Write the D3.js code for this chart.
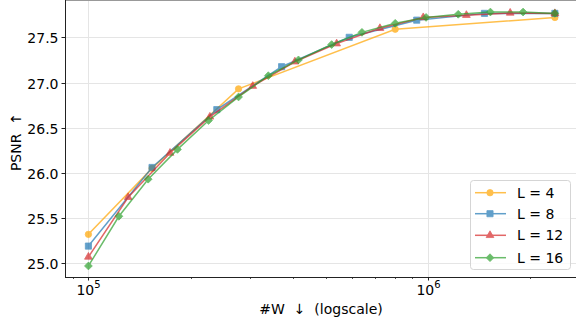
<script src='https://d3js.org/d3.v7.min.js'></script>
<style>
body {margin:0; background:#fff;}
text {font-family:'DejaVu Sans',sans-serif; fill:#000;}
.grid1 line {stroke:#e5e5e5; stroke-width:1; shape-rendering:crispEdges;}
.series .ln {fill:none; stroke-width:1.5;}
</style>
<body>
<svg id='svg001' width='576' height='324'></svg>
<script>
// values
var names=['L = 4','L = 8','L = 12','L = 16'];
var colors=['#ffa500','#1f77b4','#d62728','#2ca02c'];
var shapes=['circle','square','triangle','diamond'];
var x4=[1.00e5,1.54e5,2.77e5,8.02e5,2.37e6];
var y4=[25.32,26.05,26.93,27.59,27.72];
var x8=[1.00e5,1.54e5,2.39e5,3.71e5,5.87e5,9.28e5,1.47e6,2.37e6];
var y8=[25.19,26.06,26.70,27.175,27.50,27.69,27.765,27.765];
var x12=[1.00e5,1.31e5,1.74e5,2.28e5,3.05e5,4.06e5,5.39e5,7.23e5,9.70e5,1.30e6,1.75e6,2.37e6];
var y12=[25.07,25.73,26.22,26.62,26.96,27.23,27.43,27.60,27.72,27.745,27.77,27.765];
var x16=[1.00e5,1.23e5,1.50e5,1.83e5,2.26e5,2.77e5,3.39e5,4.16e5,5.21e5,6.40e5,8.02e5,9.89e5,1.23e6,1.53e6,1.91e6,2.37e6];
var y16=[24.97,25.52,25.93,26.26,26.58,26.84,27.075,27.25,27.42,27.555,27.655,27.72,27.755,27.78,27.78,27.765];
var yTicks=[25.0,25.5,26.0,26.5,27.0,27.5];
var xMajor=[1e5,1e6];
var xMinor=[9e4,2e5,3e5,4e5,5e5,6e5,7e5,8e5,9e5,2e6];

var xs=[x4,x8,x12,x16], ys=[y4,y8,y12,y16];
var L=65,R=576,T=0,B=277;
var xScale=d3.scaleLog().domain([Math.pow(10,4.931),Math.pow(10,6.437)]).range([L,R]);
var yScale=d3.scaleLinear().domain([24.848,27.913]).range([B,T]);
var svg=d3.select('#svg001');

// grid
svg.append('g').attr('class','grid1').selectAll('line').data(yTicks).enter().append('line')
   .attr('x1',L).attr('x2',R).attr('y1',function(d){return Math.round(yScale(d))+0.5}).attr('y2',function(d){return Math.round(yScale(d))+0.5});
svg.append('g').attr('class','grid1').selectAll('line').data(xMajor).enter().append('line')
   .attr('y1',T).attr('y2',B).attr('x1',function(d){return Math.round(xScale(d))+0.5}).attr('x2',function(d){return Math.round(xScale(d))+0.5});

// series
var symType={circle:d3.symbolCircle,square:d3.symbolSquare,triangle:d3.symbolTriangle,diamond:d3.symbolSquare};
var symSize={circle:32,square:38,triangle:26,diamond:30};
function marker(sel,shape,color){
  var p=sel.append('path').attr('d',d3.symbol().type(symType[shape]).size(symSize[shape])())
     .attr('fill',color).attr('stroke',color).attr('stroke-width',0.8);
  if(shape=='diamond') p.attr('transform','rotate(45)');
  return p;
}
var line=d3.line().x(function(d){return xScale(d[0])}).y(function(d){return yScale(d[1])});
xs.forEach(function(xv,i){
  var pts=xv.map(function(v,j){return [v,ys[i][j]]});
  var g=svg.append('g').attr('class','series').attr('opacity',0.7);
  g.append('path').attr('class','ln').datum(pts).attr('d',line).attr('stroke',colors[i]);
  pts.forEach(function(p){
    var mg=g.append('g').attr('transform','translate('+xScale(p[0])+','+yScale(p[1])+')');
    marker(mg,shapes[i],colors[i]);
  });
});

// spines
svg.append('line').attr('x1',L).attr('x2',R).attr('y1',0.5).attr('y2',0.5).attr('stroke','#999').attr('stroke-width',1);
svg.append('line').attr('x1',L+0.5).attr('x2',L+0.5).attr('y1',0).attr('y2',B+0.5).attr('stroke','#222').attr('stroke-width',1);
svg.append('line').attr('x1',L).attr('x2',R).attr('y1',B+0.5).attr('y2',B+0.5).attr('stroke','#222').attr('stroke-width',1);

// y axis
var ya=svg.append('g');
yTicks.forEach(function(t){
  var y=Math.round(yScale(t))+0.5;
  ya.append('line').attr('x1',L-3.5).attr('x2',L).attr('y1',y).attr('y2',y).attr('stroke','#222');
  ya.append('text').attr('x',L-6.5).attr('y',y).attr('dy','0.36em').attr('text-anchor','end').style('font-size','14px').text(d3.format('.1f')(t));
});
// x axis
var xa=svg.append('g');
xMajor.forEach(function(t){
  var x=Math.round(xScale(t))+0.5;
  xa.append('line').attr('x1',x).attr('x2',x).attr('y1',B).attr('y2',B+3.5).attr('stroke','#222');
  var tx=xa.append('text').attr('x',x).attr('y',295).attr('text-anchor','middle').style('font-size','14px');
  tx.append('tspan').text('10');
  tx.append('tspan').attr('dy',-7).style('font-size','10px').text(Math.round(Math.log10(t)));
});
xMinor.forEach(function(t){
  var x=Math.round(xScale(t))+0.5;
  xa.append('line').attr('x1',x).attr('x2',x).attr('y1',B).attr('y2',B+2).attr('stroke','#222').attr('stroke-width',0.8);
});

// labels
svg.append('text').attr('x',321).attr('y',314).attr('text-anchor','middle').style('font-size','14px').style('white-space','pre').text('#W  ↓  (logscale)');
svg.append('text').attr('transform','translate(20.5,142) rotate(-90)').attr('text-anchor','middle').style('font-size','14px').style('white-space','pre').text('PSNR  ↑');

// legend
var lg=svg.append('g');
lg.append('rect').attr('x',470.5).attr('y',180.5).attr('width',100).attr('height',89).attr('rx',3)
  .attr('fill','#fff').attr('fill-opacity',0.8).attr('stroke','#d5d5d5');
var rows=[192.7,213.7,235.3,257.7];
names.forEach(function(n,i){
  var r=lg.append('g').attr('opacity',0.7);
  r.append('line').attr('x1',475).attr('x2',506).attr('y1',rows[i]).attr('y2',rows[i]).attr('stroke',colors[i]).attr('stroke-width',1.5);
  marker(r.append('g').attr('transform','translate(490,'+rows[i]+')'),shapes[i],colors[i]);
  lg.append('text').attr('x',517).attr('y',rows[i]).attr('dy','0.36em').style('font-size','14px').text(n);
});
</script>
</body>
